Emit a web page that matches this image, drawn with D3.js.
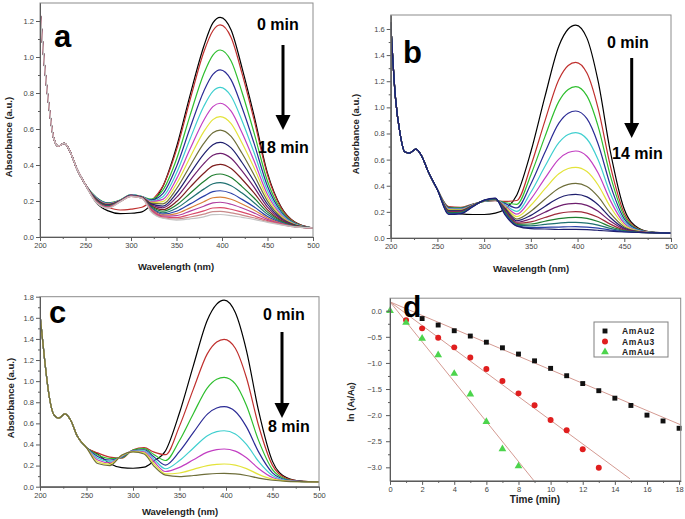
<!DOCTYPE html>
<html><head><meta charset="utf-8">
<script src="https://cdn.jsdelivr.net/npm/d3@7"></script>
<style>
body{margin:0;background:#fff}
svg{display:block}
text{font-family:"Liberation Sans",Arial,sans-serif}
</style>
</head><body>
<svg id="fig" width="685" height="519"></svg>
<script>
// ---------------- DATA ----------------
// Wavelength grid (nm) shared by spectra panels a, b, c
const wavelengths = [200,205,210,215,220,227,233,240,250,262,275,288,300,312,322,335,350,365,380,390,398,410,422,435,450,465,480,500];

// Panel a: common UV start (200-250 nm) + per-curve remainder (262-500 nm), 0..18 min
const headA = [1.26,0.95,0.72,0.55,0.505,0.52,0.475,0.385,0.29];
const tailsA = [
 [0.19,0.145,0.13,0.132,0.14,0.18,0.28,0.50,0.79,1.06,1.19,1.22,1.15,0.94,0.68,0.355,0.166,0.083,0.05],
 [0.20,0.165,0.15,0.155,0.165,0.20,0.283,0.484,0.764,1.028,1.146,1.178,1.108,0.909,0.656,0.345,0.162,0.082,0.05],
 [0.22,0.19,0.205,0.235,0.225,0.21,0.26,0.432,0.677,0.907,1.011,1.039,0.978,0.804,0.583,0.31,0.15,0.078,0.05],
 [0.218,0.188,0.204,0.234,0.224,0.206,0.241,0.391,0.607,0.81,0.903,0.928,0.873,0.719,0.524,0.282,0.14,0.076,0.05],
 [0.216,0.186,0.204,0.234,0.224,0.201,0.224,0.355,0.546,0.726,0.809,0.831,0.782,0.646,0.472,0.258,0.131,0.073,0.05],
 [0.214,0.184,0.203,0.233,0.223,0.197,0.209,0.323,0.49,0.649,0.724,0.743,0.699,0.579,0.426,0.236,0.123,0.071,0.05],
 [0.212,0.182,0.202,0.232,0.222,0.192,0.197,0.296,0.443,0.585,0.652,0.669,0.63,0.522,0.387,0.217,0.116,0.069,0.05],
 [0.211,0.181,0.202,0.232,0.222,0.188,0.184,0.268,0.396,0.52,0.579,0.594,0.559,0.465,0.347,0.199,0.109,0.067,0.05],
 [0.209,0.179,0.201,0.231,0.221,0.184,0.172,0.243,0.353,0.461,0.513,0.526,0.495,0.414,0.311,0.182,0.103,0.066,0.05],
 [0.207,0.177,0.201,0.231,0.221,0.179,0.162,0.22,0.315,0.408,0.454,0.465,0.438,0.367,0.278,0.166,0.098,0.064,0.05],
 [0.205,0.175,0.20,0.23,0.22,0.175,0.152,0.197,0.277,0.354,0.395,0.404,0.381,0.321,0.246,0.151,0.092,0.063,0.05],
 [0.203,0.173,0.199,0.229,0.219,0.171,0.143,0.178,0.243,0.308,0.343,0.35,0.33,0.28,0.218,0.138,0.088,0.061,0.05],
 [0.201,0.171,0.199,0.229,0.219,0.166,0.134,0.16,0.212,0.266,0.296,0.302,0.285,0.244,0.192,0.126,0.083,0.06,0.05],
 [0.199,0.169,0.198,0.228,0.218,0.162,0.127,0.143,0.184,0.227,0.252,0.257,0.243,0.209,0.168,0.114,0.079,0.058,0.05],
 [0.198,0.168,0.197,0.227,0.217,0.157,0.121,0.13,0.162,0.196,0.218,0.222,0.21,0.183,0.15,0.106,0.076,0.058,0.05],
 [0.196,0.166,0.197,0.227,0.217,0.153,0.116,0.119,0.144,0.171,0.19,0.193,0.182,0.161,0.134,0.098,0.073,0.057,0.05],
 [0.194,0.164,0.196,0.226,0.216,0.149,0.111,0.108,0.125,0.145,0.161,0.163,0.154,0.138,0.118,0.091,0.071,0.057,0.05],
 [0.192,0.162,0.196,0.226,0.216,0.144,0.107,0.10,0.111,0.127,0.141,0.142,0.134,0.122,0.107,0.086,0.069,0.056,0.05],
 [0.19,0.16,0.195,0.225,0.215,0.14,0.104,0.094,0.101,0.112,0.124,0.125,0.119,0.109,0.098,0.081,0.067,0.056,0.05]
];

// Panel b: 0..14 min
const headB = [1.65,1.08,0.80,0.66,0.65,0.68,0.63,0.51,0.37];
const tailsB = [
 [0.22,0.185,0.18,0.18,0.19,0.22,0.33,0.66,1.08,1.47,1.6,1.63,1.53,1.2,0.665,0.22,0.077,0.045,0.038],
 [0.24,0.235,0.26,0.28,0.285,0.28,0.287,0.553,0.895,1.214,1.321,1.345,1.263,0.992,0.554,0.188,0.07,0.044,0.038],
 [0.235,0.231,0.258,0.281,0.287,0.272,0.258,0.483,0.774,1.046,1.137,1.158,1.088,0.855,0.48,0.167,0.066,0.043,0.038],
 [0.231,0.227,0.257,0.282,0.288,0.265,0.23,0.413,0.654,0.879,0.955,0.972,0.913,0.72,0.407,0.146,0.062,0.043,0.038],
 [0.226,0.223,0.255,0.282,0.29,0.257,0.204,0.35,0.547,0.73,0.792,0.806,0.758,0.599,0.342,0.128,0.058,0.042,0.038],
 [0.222,0.22,0.254,0.283,0.291,0.249,0.183,0.298,0.456,0.604,0.654,0.666,0.626,0.497,0.288,0.112,0.055,0.042,0.038],
 [0.217,0.216,0.252,0.284,0.293,0.242,0.164,0.251,0.376,0.492,0.532,0.541,0.509,0.406,0.239,0.098,0.053,0.041,0.038],
 [0.212,0.212,0.251,0.285,0.294,0.234,0.145,0.205,0.296,0.381,0.411,0.418,0.394,0.316,0.19,0.085,0.05,0.041,0.038],
 [0.208,0.208,0.249,0.285,0.296,0.226,0.132,0.173,0.242,0.306,0.329,0.334,0.315,0.255,0.157,0.075,0.048,0.041,0.038],
 [0.203,0.204,0.248,0.286,0.297,0.218,0.121,0.147,0.197,0.244,0.261,0.265,0.25,0.204,0.13,0.068,0.047,0.04,0.038],
 [0.198,0.20,0.246,0.287,0.299,0.211,0.112,0.123,0.157,0.188,0.199,0.202,0.191,0.159,0.106,0.061,0.045,0.04,0.038],
 [0.194,0.197,0.245,0.288,0.30,0.203,0.105,0.107,0.128,0.148,0.156,0.158,0.15,0.126,0.088,0.056,0.044,0.04,0.038],
 [0.189,0.193,0.243,0.288,0.302,0.195,0.099,0.093,0.104,0.114,0.119,0.12,0.114,0.099,0.074,0.052,0.043,0.04,0.038],
 [0.185,0.189,0.242,0.289,0.303,0.188,0.094,0.08,0.082,0.084,0.086,0.087,0.083,0.075,0.061,0.048,0.043,0.04,0.038],
 [0.18,0.185,0.24,0.29,0.305,0.18,0.091,0.072,0.069,0.065,0.066,0.066,0.064,0.059,0.052,0.046,0.042,0.04,0.038]
];

// Panel c: 0..8 min
const headC = [1.63,1.2,0.85,0.68,0.65,0.69,0.63,0.48,0.37];
const tailsC = [
 [0.31,0.22,0.18,0.175,0.185,0.24,0.34,0.70,1.15,1.58,1.73,1.768,1.65,1.29,0.72,0.24,0.087,0.053,0.045],
 [0.32,0.28,0.27,0.35,0.37,0.33,0.303,0.574,0.927,1.261,1.371,1.396,1.312,1.032,0.58,0.202,0.079,0.052,0.045],
 [0.303,0.267,0.275,0.347,0.36,0.308,0.248,0.438,0.694,0.937,1.018,1.036,0.974,0.769,0.439,0.162,0.071,0.051,0.045],
 [0.287,0.253,0.28,0.343,0.35,0.287,0.205,0.334,0.514,0.688,0.745,0.758,0.713,0.567,0.33,0.131,0.065,0.05,0.045],
 [0.27,0.24,0.285,0.34,0.34,0.265,0.17,0.248,0.367,0.483,0.521,0.53,0.499,0.40,0.24,0.106,0.06,0.049,0.045],
 [0.253,0.227,0.29,0.337,0.33,0.243,0.144,0.183,0.255,0.328,0.352,0.357,0.337,0.274,0.173,0.087,0.056,0.049,0.045],
 [0.237,0.213,0.295,0.333,0.32,0.222,0.122,0.13,0.164,0.20,0.212,0.215,0.204,0.171,0.117,0.071,0.053,0.048,0.045],
 [0.22,0.20,0.30,0.33,0.31,0.20,0.109,0.096,0.106,0.12,0.125,0.126,0.121,0.106,0.082,0.061,0.051,0.048,0.045]
];

const colorsA = ["#000000","#c0302e","#2fbf2f","#2b2b95","#3fcfcf","#c23fc2","#e3e33a","#6e6e3a","#1f1f6e","#6e1f6e","#7e1f1f","#1f7e2f","#1f7070","#2a3fa8","#d9803a","#b040a0","#d94a6a","#c98a8a","#c4c4c4"];
const colorsB = ["#000000","#c0302e","#2fbf2f","#2b2b95","#3fcfcf","#c23fc2","#e3e33a","#6e6e3a","#1f1f6e","#6e1f6e","#a02a3a","#1f7e2f","#1f7070","#2a3fa8","#1f1f6e"];
const colorsC = ["#000000","#c0302e","#2fbf2f","#2b2b95","#3fcfcf","#c23fc2","#e3e33a","#6e6e3a"];

const wlTicks = [200,250,300,350,400,450,500];
const wlMinor = [225,275,325,375,425,475];
const yTicksA = [0,0.2,0.4,0.6,0.8,1.0,1.2];
const yTicksB = [0,0.2,0.4,0.6,0.8,1.0,1.2,1.4,1.6];
const yTicksC = [0,0.2,0.4,0.6,0.8,1.0,1.2,1.4,1.6,1.8];

// Panel d: kinetics ln(At/A0) vs time
const timeAmAu2 = [2,3,4,5,6,7,8,9,10,11,12,13,14,15,16,17,18];
const lnAmAu2 = [-0.15,-0.274,-0.383,-0.485,-0.603,-0.71,-0.83,-0.96,-1.104,-1.245,-1.395,-1.532,-1.675,-1.815,-2.0,-2.112,-2.252];
const timeAmAu3 = [1,2,3,4,5,6,7,8,9,10,11,12,13];
const lnAmAu3 = [-0.18,-0.338,-0.517,-0.702,-0.894,-1.115,-1.345,-1.583,-1.81,-2.094,-2.29,-2.652,-3.007];
const timeAmAu4 = [0,1,2,3,4,5,6,7,8];
const lnAmAu4 = [0,-0.228,-0.532,-0.849,-1.205,-1.598,-2.128,-2.65,-2.977];
// fitted lines: [t, ln] end points
const fitAmAu2 = [[0,0.17],[18.06,-2.18]];
const fitAmAu3 = [[0,0.17],[14.94,-3.22]];
const fitAmAu4 = [[0,0.17],[8.97,-3.26]];
const timeTicks = [0,2,4,6,8,10,12,14,16,18];
const timeMinor = [1,3,5,7,9,11,13,15,17];
const lnTicks = [0,-0.5,-1.0,-1.5,-2.0,-2.5,-3.0];
const lnMinor = [-0.25,-0.75,-1.25,-1.75,-2.25,-2.75];
const legendNames = ["AmAu2","AmAu3","AmAu4"];

// ---------------- DRAWING ----------------
const svg = d3.select("#fig");
svg.append("rect").attr("width",685).attr("height",519).attr("fill","#fff");
const AX = "#5a5a5a";

function styleAxis(sel){
  sel.select(".domain").attr("stroke",AX).attr("stroke-width",1);
  sel.selectAll(".tick line").attr("stroke",AX);
  sel.selectAll(".tick text").attr("fill","#444").attr("font-size","7.5px")
     .attr("font-family","'Liberation Sans',Arial,sans-serif");
}

function frameAxes(g, x, y, c){
  const [x0,x1] = x.range(), [yb,yt] = y.range();
  g.append("rect").attr("x",x0).attr("y",yt).attr("width",x1-x0).attr("height",yb-yt)
    .attr("fill","none").attr("stroke","#8c8c8c").attr("stroke-width",1);
  const bx = g.append("g").attr("transform",`translate(0,${yb})`)
    .call(d3.axisBottom(x).tickValues(c.xTicks).tickSize(4).tickSizeOuter(0).tickPadding(2).tickFormat(c.xFmt));
  styleAxis(bx);
  const bm = g.append("g").attr("transform",`translate(0,${yb})`)
    .call(d3.axisBottom(x).tickValues(c.xMinor).tickSize(2).tickSizeOuter(0).tickFormat(""));
  styleAxis(bm);
  const ly = g.append("g").attr("transform",`translate(${x0},0)`)
    .call(d3.axisLeft(y).tickValues(c.yTicks).tickSize(4).tickSizeOuter(0).tickPadding(c.yPad||2).tickFormat(c.yFmt));
  styleAxis(ly);
  const lm = g.append("g").attr("transform",`translate(${x0},0)`)
    .call(d3.axisLeft(y).tickValues(c.yMinor).tickSize(2).tickSizeOuter(0).tickFormat(""));
  styleAxis(lm);
}

function label(txt, x, y, size, rot){
  const t = svg.append("text").attr("font-size",size).attr("font-weight","bold").attr("fill","#222")
    .attr("text-anchor","middle").attr("dominant-baseline","central");
  if(rot) t.attr("transform",`translate(${x},${y}) rotate(-90)`); else t.attr("x",x).attr("y",y);
  t.text(txt);
  return t;
}

function bigText(txt, x, y, size){
  svg.append("text").attr("x",x).attr("y",y).attr("font-family","Lato, 'Open Sans', sans-serif")
    .attr("font-weight","bold").attr("font-size",size).attr("fill","#000").text(txt);
}

function arrow(x, yTop, yBot){
  svg.append("line").attr("x1",x).attr("x2",x).attr("y1",yTop).attr("y2",yBot-12)
    .attr("stroke","#000").attr("stroke-width",3);
  svg.append("path").attr("d",`M${x-7.5},${yBot-15} L${x+7.5},${yBot-15} L${x},${yBot} Z`).attr("fill","#000");
}

let clipId = 0;
function spectra(c){
  const x = d3.scaleLinear().domain([200,500]).range(c.xRange);
  const y = d3.scaleLinear().domain(c.yDomain).range(c.yRange);
  const g = svg.append("g");
  const id = "clip"+(clipId++);
  g.append("clipPath").attr("id",id).append("rect")
    .attr("x",c.xRange[0]).attr("y",c.yRange[1]).attr("width",c.xRange[1]-c.xRange[0]).attr("height",c.yRange[0]-c.yRange[1]);
  const line = d3.line().x((d,i)=>x(wavelengths[i])).y(d=>y(d)).curve(d3.curveMonotoneX);
  const curves = c.tails.map(t => c.head.concat(t));
  g.append("g").attr("clip-path",`url(#${id})`).selectAll("path").data(curves).join("path")
    .attr("d",line).attr("fill","none").attr("stroke",(d,i)=>c.colors[i]).attr("stroke-width",1.2)
    .attr("stroke-linejoin","round");
  frameAxes(g, x, y, {xTicks:wlTicks, xMinor:wlMinor, xFmt:d3.format("d"),
    yTicks:c.yTicks, yMinor:c.yTicks.slice(0,-1).map(v=>v+0.1).concat(c.extraMinor||[]), yFmt:d3.format(".1f")});
}

spectra({xRange:[40,313], yDomain:[0,1.3], yRange:[237,3], head:headA, tails:tailsA, colors:colorsA, yTicks:yTicksA});
spectra({xRange:[390.7,671], yDomain:[0,1.707], yRange:[238,15], head:headB, tails:tailsB, colors:colorsB, yTicks:yTicksB});
spectra({xRange:[40,319], yDomain:[0,1.8], yRange:[486.7,296.7], head:headC, tails:tailsC, colors:colorsC, yTicks:yTicksC});

// axis titles spectra
label("Absorbance (a.u.)", 8, 137, "9.5px", true);
label("Wavelength (nm)", 176, 266, "9.5px");
label("Absorbance (a.u.)", 355, 134, "9.5px", true);
label("Wavelength (nm)", 531, 268, "9.5px");
label("Absorbance (a.u.)", 10, 398, "9.5px", true);
label("Wavelength (nm)", 180, 511, "9.5px");

// annotations
bigText("a", 54, 47, "31px");
bigText("b", 403, 63, "31px");
bigText("c", 49, 323, "31px");
bigText("0 min", 257, 30, "16px");
bigText("18 min", 258, 153, "16px");
arrow(283, 45, 130);
bigText("0 min", 607, 48, "16px");
bigText("14 min", 612, 159, "16px");
arrow(631.7, 58, 138);
bigText("0 min", 263, 320, "16px");
bigText("8 min", 268, 432, "16px");
arrow(282, 332, 418);

// ---------- panel d ----------
(function(){
  const x = d3.scaleLinear().domain([0,18.1]).range([390,680.7]);
  const y = d3.scaleLinear().domain([-3.26,0.24]).range([480.9,298.2]);
  const g = svg.append("g");
  g.append("clipPath").attr("id","clipd").append("rect").attr("x",390).attr("y",298.2).attr("width",290.7).attr("height",182.7);
  const fits = [fitAmAu2, fitAmAu3, fitAmAu4];
  g.append("g").attr("clip-path","url(#clipd)").selectAll("line").data(fits).join("line")
    .attr("x1",d=>x(d[0][0])).attr("y1",d=>y(d[0][1])).attr("x2",d=>x(d[1][0])).attr("y2",d=>y(d[1][1]))
    .attr("stroke","#d49a92").attr("stroke-width",1);
  const sets = [
    {t:timeAmAu2, v:lnAmAu2, sym:d3.symbolSquare, size:24, color:"#111"},
    {t:timeAmAu3, v:lnAmAu3, sym:d3.symbolCircle, size:28, color:"#e01e1e"},
    {t:timeAmAu4, v:lnAmAu4, sym:d3.symbolTriangle, size:26, color:"#4cd44c"}
  ];
  sets.forEach(s=>{
    g.selectAll(null).data(s.t).join("path")
      .attr("transform",(d,i)=>`translate(${x(d)},${y(s.v[i])})`)
      .attr("d",d3.symbol().type(s.sym).size(s.size)).attr("fill",s.color);
  });
  frameAxes(g, x, y, {xTicks:timeTicks, xMinor:timeMinor, xFmt:d3.format("d"),
    yTicks:lnTicks, yMinor:lnMinor, yFmt:d3.format(".1f"), yPad:4});
  // legend
  const lg = g.append("g");
  lg.append("rect").attr("x",594).attr("y",322).attr("width",74).attr("height",35)
    .attr("fill","#fff").attr("stroke","#808080").attr("stroke-width",1);
  sets.forEach((s,i)=>{
    const yy = 331 + i*10.5;
    lg.append("path").attr("transform",`translate(605,${yy})`)
      .attr("d",d3.symbol().type(s.sym).size(s.size)).attr("fill",s.color);
    lg.append("text").attr("x",622).attr("y",yy).attr("dominant-baseline","central")
      .attr("font-size","8.5px").attr("font-weight","bold").attr("letter-spacing","0.6px").attr("fill","#222")
      .text(legendNames[i]);
  });
  bigText("d", 403, 317, "30px");
  label("Time (min)", 535, 499, "10px");
  const t = svg.append("text").attr("transform","translate(350,402) rotate(-90)")
    .attr("text-anchor","middle").attr("dominant-baseline","central")
    .attr("font-size","9.5px").attr("font-weight","bold").attr("fill","#222");
  t.append("tspan").text("ln (A");
  t.append("tspan").attr("font-size","6.5px").attr("dy","2").text("t");
  t.append("tspan").attr("dy","-2").text("/A");
  t.append("tspan").attr("font-size","6.5px").attr("dy","2").text("0");
  t.append("tspan").attr("dy","-2").text(")");
})();
</script>
</body></html>
